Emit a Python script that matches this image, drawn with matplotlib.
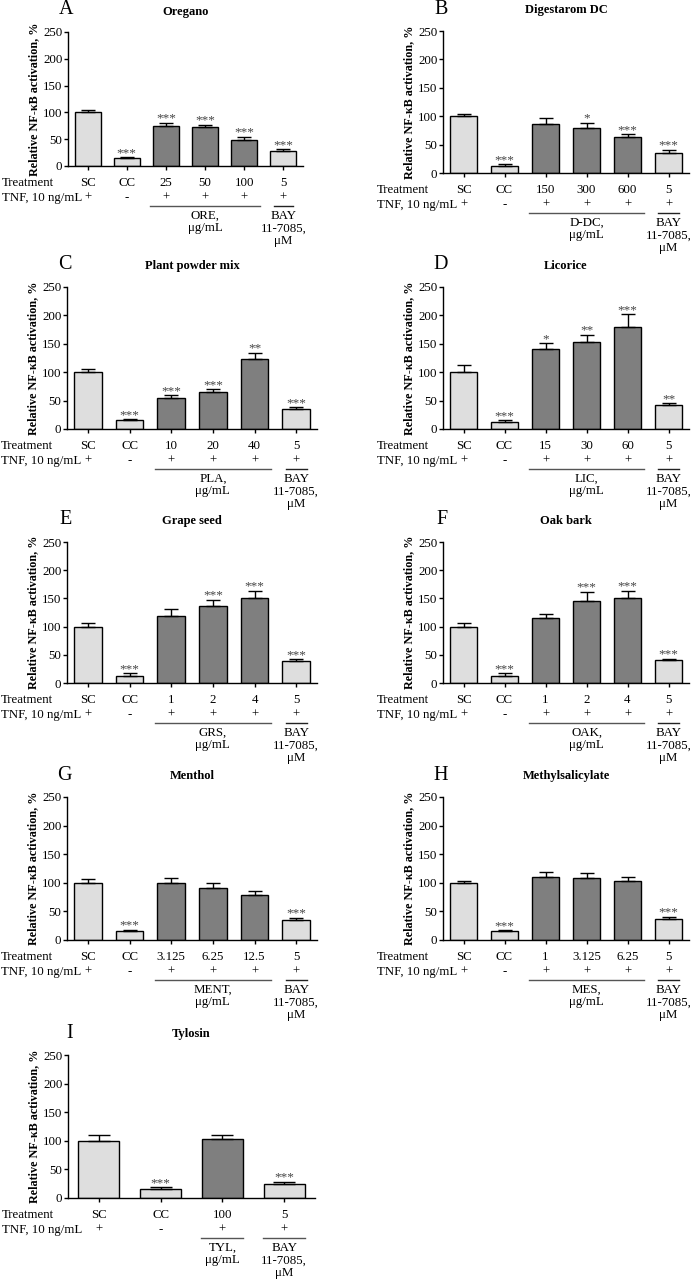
import matplotlib
matplotlib.use('Agg')
import matplotlib.pyplot as plt
import numpy as np

plt.rcParams['font.family'] = ['Liberation Serif', 'DejaVu Serif']

letters = ['A', 'B', 'C', 'D', 'E', 'F', 'G', 'H', 'I']
titles = ['Oregano', 'Digestarom DC', 'Plant powder mix', 'Licorice', 'Grape seed',
          'Oak bark', 'Menthol', 'Methylsalicylate', 'Tylosin']
groups = ['ORE', 'D-DC', 'PLA', 'LIC', 'GRS', 'OAK', 'MENT', 'MES', 'TYL']
doses = [['25', '50', '100'], ['150', '300', '600'], ['10', '20', '40'],
         ['15', '30', '60'], ['1', '2', '4'], ['1', '2', '4'],
         ['3.125', '6.25', '12.5'], ['1', '3.125', '6.25'], ['100']]
means = [[100, 14, 75, 72, 49, 28],
         [100, 13, 87, 80, 63, 36],
         [100, 15, 54, 65, 123, 35],
         [100, 13, 140, 154, 180, 42],
         [100, 13, 119, 137, 151, 39],
         [100, 13, 116, 145, 150, 40],
         [100, 16, 100, 91, 79, 35],
         [100, 15, 110, 109, 104, 37],
         [100, 16, 103, 24]]
errs = [[4, 2, 5, 5, 6, 3],
        [4, 2, 10, 8, 5, 5],
        [6, 2, 5, 5, 11, 3],
        [12, 2, 11, 12, 22, 3],
        [6, 4, 13, 11, 12, 3],
        [6, 4, 7, 17, 13, 3],
        [7, 2, 9, 8, 7, 4],
        [4, 2, 9, 9, 6, 4],
        [10, 3, 8, 4]]
stars = [['', '***', '***', '***', '***', '***'],
         ['', '***', '', '*', '***', '***'],
         ['', '***', '***', '***', '**', '***'],
         ['', '***', '*', '**', '***', '**'],
         ['', '***', '', '***', '***', '***'],
         ['', '***', '', '***', '***', '***'],
         ['', '***', '', '', '', '***'],
         ['', '***', '', '', '', '***'],
         ['', '***', '', '***']]

# axes boxes in pixels: left, top, right, bottom
boxes = [(68, 32, 303, 166), (443, 31, 689, 173),
         (67, 287, 317, 429), (443, 287, 689, 429),
         (67, 542, 317, 683), (443, 542, 689, 683),
         (67, 797, 317, 940), (443, 797, 689, 940),
         (68, 1055, 315, 1198)]

W, H = 692, 1285
fig = plt.figure(figsize=(W / 100, H / 100), dpi=100)

light = '#dedede'
dark = '#7f7f7f'
fs = 9.3

for i in range(9):
    l, t, r, b = boxes[i]
    hpx = b - t
    ax = fig.add_axes([l / W, 1 - b / H, (r - l) / W, hpx / H])
    n = len(means[i])
    x = np.arange(n)
    cols = [light, light] + [dark] * (n - 3) + [light]
    ax.bar(x, means[i], width=0.66, color=cols, edgecolor='black', linewidth=1.0, zorder=2)
    ax.errorbar(x, means[i], yerr=[np.zeros(n), errs[i]], fmt='none', ecolor='black',
                elinewidth=1.0, capsize=5 if n > 4 else 8, capthick=1.0, zorder=3)
    for j in range(n):
        if stars[i][j]:
            ax.text(x[j], means[i][j] + errs[i][j] - 3, stars[i][j], ha='center', va='bottom',
                    fontsize=9.5, color='#444444')
    ax.set_xlim(-0.5, n - 0.5)
    ax.set_ylim(0, 250)
    ax.set_yticks([0, 50, 100, 150, 200, 250])
    ax.set_xticks(x)
    ax.set_xticklabels([])
    ax.tick_params(axis='both', length=3, width=1, labelsize=fs, pad=1)
    ax.spines['top'].set_visible(False)
    ax.spines['right'].set_visible(False)
    ax.spines['left'].set_linewidth(1)
    ax.spines['bottom'].set_linewidth(1)
    ax.set_ylabel('Relative NF-κB activation, %', fontsize=8.7, fontweight='bold', labelpad=2)
    ax.set_title(titles[i], fontsize=9, fontweight='bold', pad=13 if i > 0 else 12)
    fig.text((l + 5) / W, 1 - (t - 22) / H, letters[i], fontsize=14.5, ha='right', va='center')

    tr = ax.get_xaxis_transform()
    def fy(d):
        return -d / hpx
    treat = ['SC', 'CC'] + doses[i] + ['5']
    tnf = ['+', '-'] + ['+'] * (n - 3) + ['+']
    fig.text((l - 66) / W, 1 - (b + 17) / H, 'Treatment', fontsize=fs, ha='left', va='center')
    fig.text((l - 66) / W, 1 - (b + 32) / H, 'TNF, 10 ng/mL', fontsize=fs, ha='left', va='center')
    for j in range(n):
        ax.text(x[j], fy(17), treat[j], transform=tr, fontsize=fs, ha='center', va='center')
        ax.text(x[j], fy(32), tnf[j], transform=tr, fontsize=fs, ha='center', va='center')
    if n > 4:
        ax.plot([1.6, 4.4], [fy(40), fy(40)], transform=tr, color='#555555', lw=1, clip_on=False)
        ax.plot([4.75, 5.25], [fy(40), fy(40)], transform=tr, color='#222222', lw=1, clip_on=False)
        gx = 3
    else:
        ax.plot([1.66, 2.34], [fy(40), fy(40)], transform=tr, color='#555555', lw=1, clip_on=False)
        ax.plot([2.66, 3.34], [fy(40), fy(40)], transform=tr, color='#555555', lw=1, clip_on=False)
        gx = 2
    ax.text(gx, fy(44), groups[i] + ',\nμg/mL', transform=tr, fontsize=fs, ha='center',
            va='top', linespacing=1.05)
    ax.text(n - 1, fy(44), 'BAY\n11-7085,\nμM', transform=tr, fontsize=fs, ha='center',
            va='top', linespacing=1.05)

fig.savefig('out.png', dpi=100)
